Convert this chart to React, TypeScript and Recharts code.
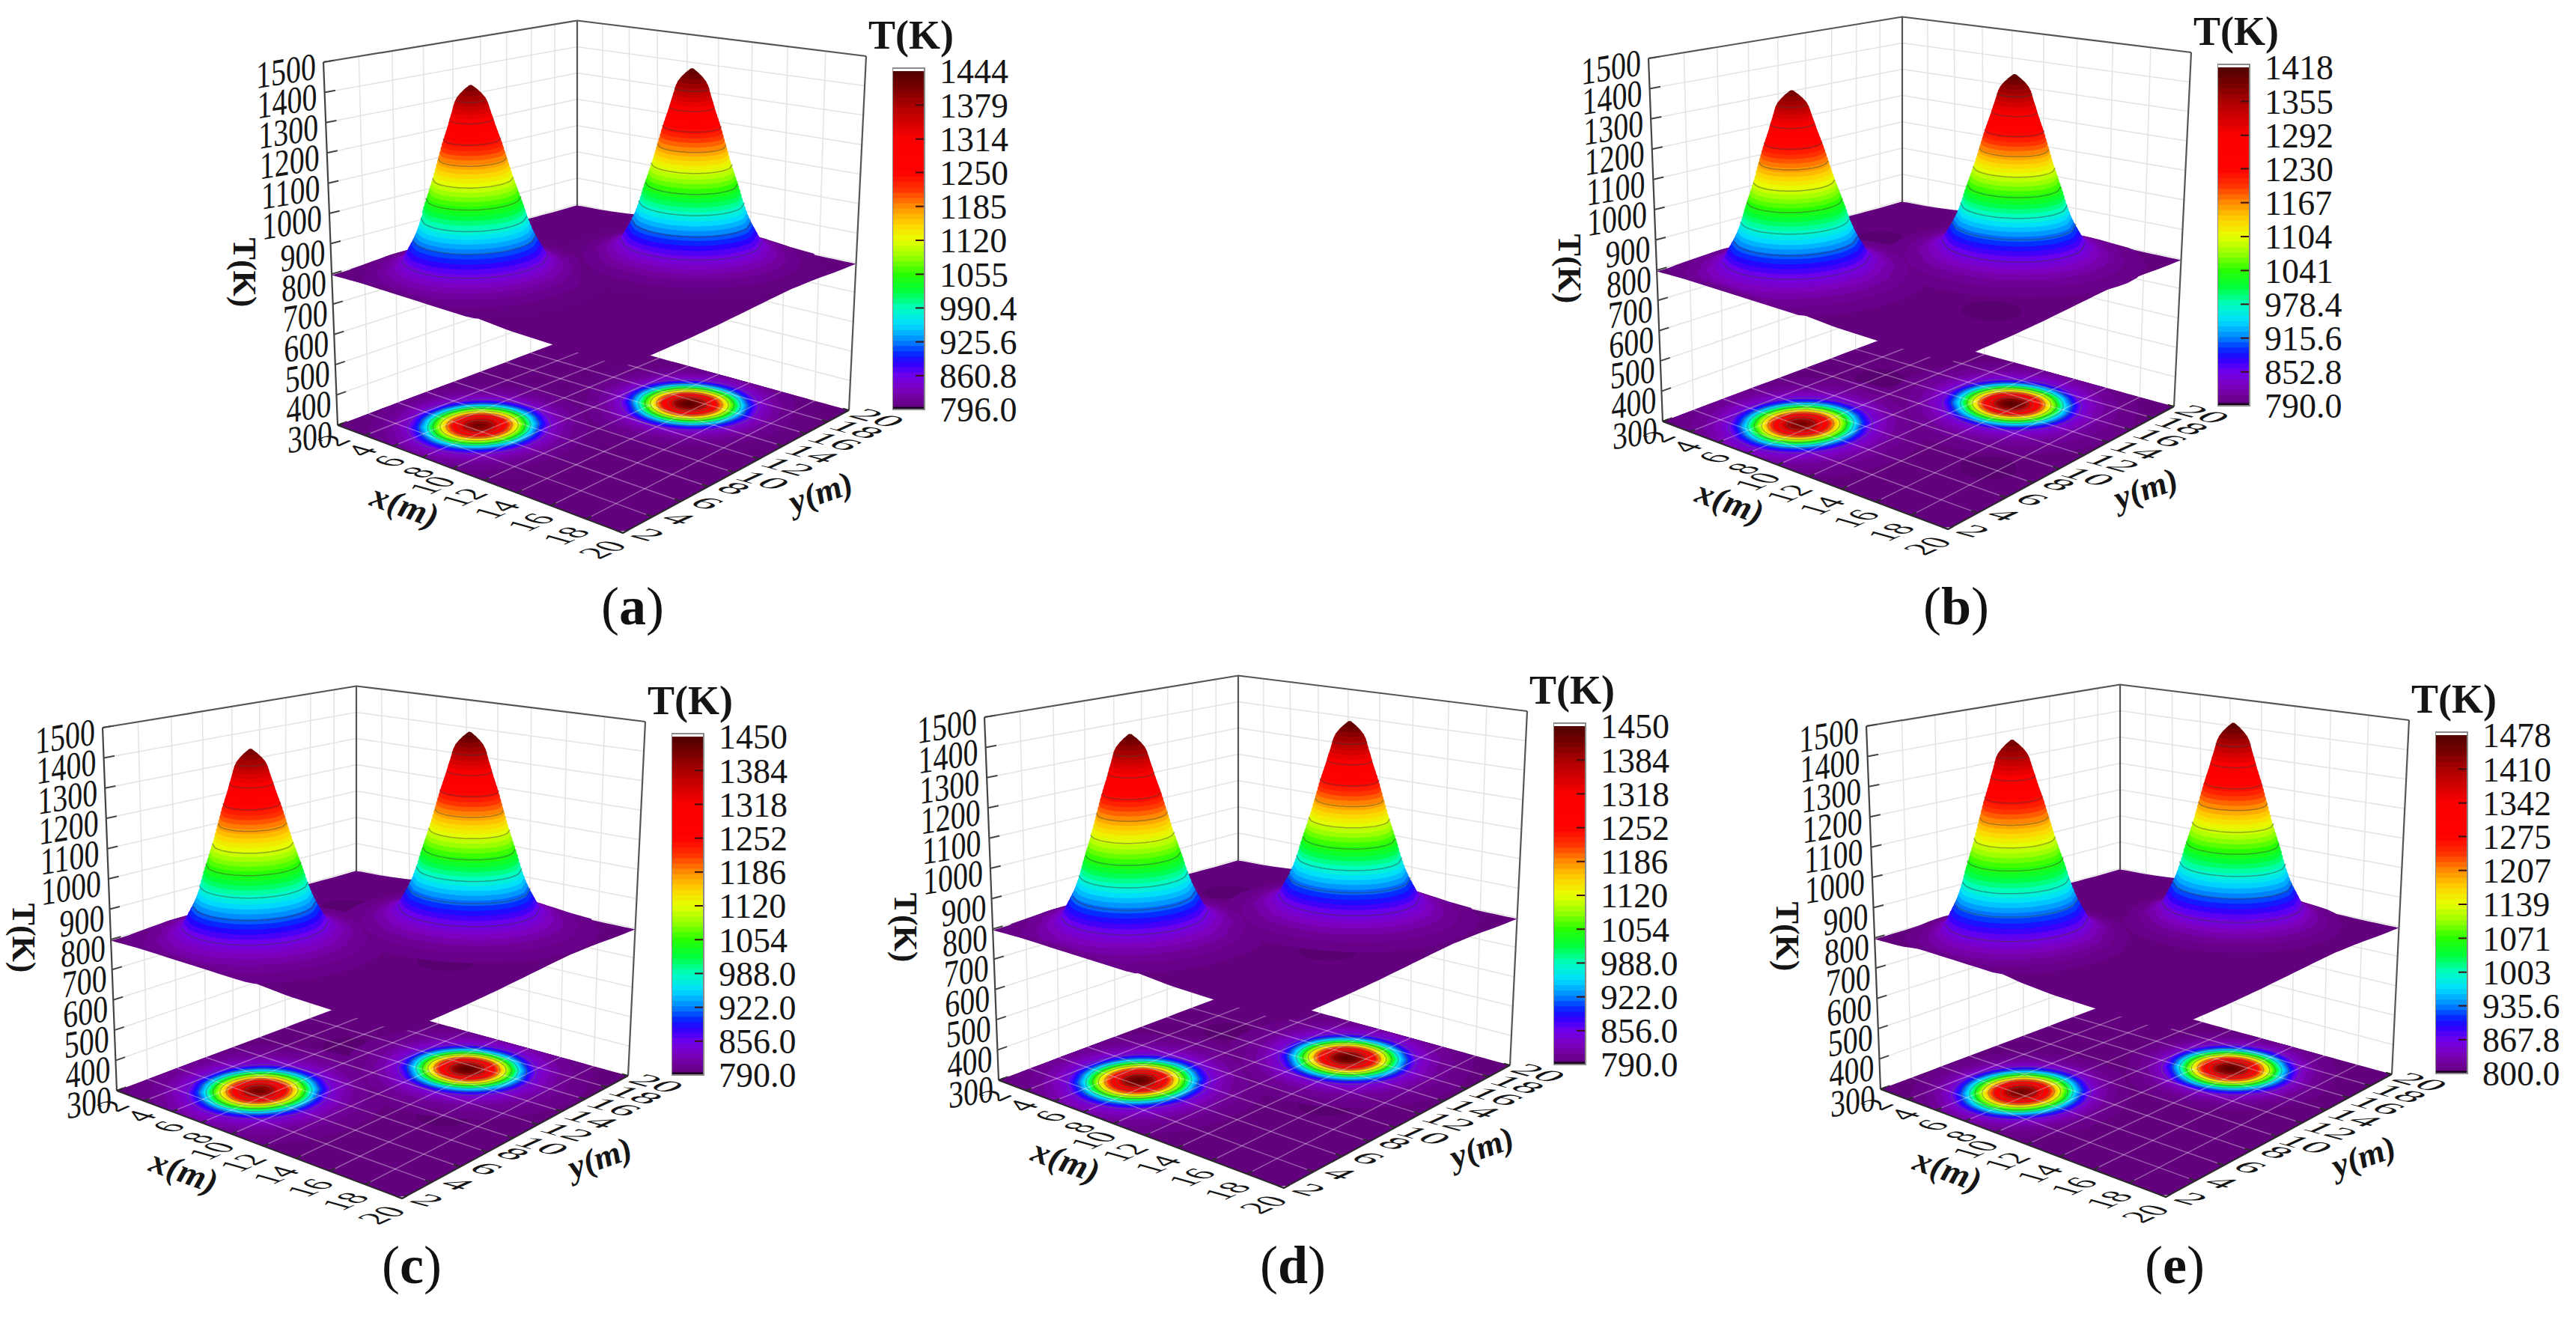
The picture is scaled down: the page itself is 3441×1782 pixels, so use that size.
import React from 'react';
import { Area, ComposedChart, Line, Scatter, XAxis, YAxis } from 'recharts';

const FONT = '"Liberation Serif", "Times New Roman", serif';

// one block per panel
const panelNames = ['a', 'b', 'c', 'd', 'e'];
const panelShiftX = [0, 1770, -295, 883, 2061];
const panelShiftY = [0, -5, 889, 875, 887];
const captionX = [845, 2613, 550, 1727, 2905];
const captionY = [810, 810, 1690, 1690, 1690];

const barLabelsA = ['796.0', '860.8', '925.6', '990.4', '1055', '1120', '1185', '1250', '1314', '1379', '1444'];
const barLabelsB = ['790.0', '852.8', '915.6', '978.4', '1041', '1104', '1167', '1230', '1292', '1355', '1418'];
const barLabelsC = ['790.0', '856.0', '922.0', '988.0', '1054', '1120', '1186', '1252', '1318', '1384', '1450'];
const barLabelsD = ['790.0', '856.0', '922.0', '988.0', '1054', '1120', '1186', '1252', '1318', '1384', '1450'];
const barLabelsE = ['800.0', '867.8', '935.6', '1003', '1071', '1139', '1207', '1275', '1342', '1410', '1478'];
const barLabels = [barLabelsA, barLabelsB, barLabelsC, barLabelsD, barLabelsE];

// peak positions (m) and peak temperatures (K)
const leftPeakX = [7.3, 7.4, 7.3, 7.25, 7.5];
const leftPeakY = [6.5, 6.15, 6.55, 6.45, 6.25];
const rightPeakX = [13.4, 13.6, 13.3, 13.2, 13.4];
const rightPeakY = [15.5, 15, 15.5, 15.5, 15.35];
const leftPeakT = [1425, 1400, 1430, 1445, 1460];
const rightPeakT = [1444, 1418, 1450, 1450, 1478];

// cold patches on the surface (m)
const coldSpotsA: number[][] = [];
const coldSpotsB = [[6.1, 13.4], [17.5, 8]];
const coldSpotsC = [[6.5, 14], [16, 10]];
const coldSpotsD = [[6, 14.5], [16, 10]];
const coldSpotsE: number[][] = [];
const coldSpots = [coldSpotsA, coldSpotsB, coldSpotsC, coldSpotsD, coldSpotsE];

// radial profile of a peak read from the silhouettes, for a 1475 K top
const ringTemps = [800, 810, 820, 830, 840, 850, 860, 875, 890, 905, 920, 935, 950, 965, 980, 995, 1010, 1025, 1040, 1055, 1070, 1085, 1100, 1115, 1130, 1145, 1160, 1175, 1190, 1205, 1220, 1235, 1250, 1265, 1280, 1295, 1310, 1325, 1340, 1355, 1370, 1385, 1400, 1415, 1430, 1445, 1460, 1475];
const ringRadii = [6.4, 5.4, 4.7, 4.25, 3.9, 3.65, 3.5, 3.38, 3.26, 3.14, 3.02, 2.92, 2.82, 2.74, 2.66, 2.59, 2.52, 2.46, 2.4, 2.33, 2.26, 2.19, 2.12, 2.05, 1.98, 1.91, 1.85, 1.79, 1.73, 1.67, 1.61, 1.55, 1.49, 1.43, 1.36, 1.29, 1.22, 1.15, 1.09, 1.03, 0.96, 0.9, 0.84, 0.78, 0.68, 0.52, 0.32, 0.08];

// temperature along the surface edges
const edgeFront = [796, 800, 815, 826, 822, 806, 798, 797, 796, 796];
const edgeRight = [796, 796, 796, 798, 802, 806, 809, 806, 800, 796];
const edgeBack = [796, 797, 800, 808, 818, 824, 818, 806, 798, 796];
const edgeLeft = [796, 796, 798, 801, 806, 812, 808, 803, 798, 796];
const edgeStations = [2, 4, 6, 8, 10, 12, 14, 16, 18, 20];

const tempTicks = [300, 400, 500, 600, 700, 800, 900, 1000, 1100, 1200, 1300, 1400, 1500];
const metreTicks = [2, 4, 6, 8, 10, 12, 14, 16, 18, 20];

// colour bar stops: position 0..1 and rgb
const stopAt = [0, 0.03, 0.06, 0.1, 0.14, 0.17, 0.2, 0.25, 0.3, 0.35, 0.4, 0.45, 0.5, 0.55, 0.6, 0.65, 0.7, 0.8, 0.85, 0.9, 0.95, 1];
const stopRgb = [
  [98, 0, 125], [110, 0, 150], [125, 0, 190], [110, 0, 235], [40, 0, 255], [0, 50, 255], [0, 130, 255], [0, 220, 255],
  [0, 255, 190], [0, 255, 60], [40, 255, 0], [150, 255, 0], [230, 255, 0], [255, 210, 0], [255, 140, 0], [255, 50, 0],
  [255, 0, 0], [250, 0, 0], [210, 0, 0], [170, 0, 0], [120, 0, 0], [80, 0, 0],
];

// camera: corners of the box seen on screen, for panel (a)
const floorQuad = [[451, 568], [832, 712], [1134, 548], [771, 448]];
const topQuad = [[432, 83], [836, 175], [1157, 75], [771, 27.5]];

const FRAME_X = 300;
const FRAME_W = 1000;
const FRAME_H = 880;

type Pt = [number, number];

function homography(q: number[][]) {
  const [p0, p1, p2, p3] = q;
  const dx1 = p1[0] - p2[0];
  const dx2 = p3[0] - p2[0];
  const sx = p0[0] - p1[0] + p2[0] - p3[0];
  const dy1 = p1[1] - p2[1];
  const dy2 = p3[1] - p2[1];
  const sy = p0[1] - p1[1] + p2[1] - p3[1];
  const det = dx1 * dy2 - dx2 * dy1;
  const g = (sx * dy2 - dx2 * sy) / det;
  const h = (dx1 * sy - sx * dy1) / det;
  return (u: number, v: number): Pt => {
    const w = g * u + h * v + 1;
    return [
      ((p1[0] - p0[0] + g * p1[0]) * u + (p3[0] - p0[0] + h * p3[0]) * v + p0[0]) / w,
      ((p1[1] - p0[1] + g * p1[1]) * u + (p3[1] - p0[1] + h * p3[1]) * v + p0[1]) / w,
    ];
  };
}

const floorMap = homography(floorQuad);
const topMap = homography(topQuad);

function project(x: number, y: number, t: number): Pt {
  const u = (x - 2) / 18;
  const v = (y - 2) / 18;
  const f = (t - 300) / 1200;
  const a = floorMap(u, v);
  const b = topMap(u, v);
  return [a[0] + (b[0] - a[0]) * f, a[1] + (b[1] - a[1]) * f];
}

function colorAt(frac: number) {
  const t = Math.min(1, Math.max(0, frac));
  let i = 0;
  while (i < stopAt.length - 2 && stopAt[i + 1] < t) i++;
  const k = (t - stopAt[i]) / (stopAt[i + 1] - stopAt[i]);
  const c = stopRgb[i].map((v, j) => Math.round(v + (stopRgb[i + 1][j] - v) * k));
  return `rgb(${c[0]},${c[1]},${c[2]})`;
}

function ringPolygon(cx: number, cy: number, r: number, t: number): Pt[] {
  const out: Pt[] = [];
  for (let i = 0; i < 40; i++) {
    const a = (i / 40) * Math.PI * 2;
    const x = Math.min(20, Math.max(2, cx + r * Math.cos(a)));
    const y = Math.min(20, Math.max(2, cy + r * Math.sin(a)));
    out.push(project(x, y, t));
  }
  return out;
}

// convex hull of two rings, so the slope between them has no gaps
function hull(points: Pt[]): Pt[] {
  const p = [...points].sort((a, b) => a[0] - b[0] || a[1] - b[1]);
  const cross = (o: Pt, a: Pt, b: Pt) => (a[0] - o[0]) * (b[1] - o[1]) - (a[1] - o[1]) * (b[0] - o[0]);
  const half = (list: Pt[]) => {
    const out: Pt[] = [];
    list.forEach((q) => {
      while (out.length >= 2 && cross(out[out.length - 2], out[out.length - 1], q) <= 0) out.pop();
      out.push(q);
    });
    out.pop();
    return out;
  };
  return [...half(p), ...half([...p].reverse())];
}

// vertical slices of a polygon, in the [low, high] form a range Area wants
function toRows(poly: Pt[], steps = 28) {
  const xs = poly.map((p) => p[0]);
  const min = Math.min(...xs);
  const max = Math.max(...xs);
  const rows: { x: number; range: number[]; y: number }[] = [];
  for (let i = 0; i <= steps; i++) {
    const x = min + ((max - min) * i) / steps;
    let lo = Infinity;
    let hi = -Infinity;
    poly.forEach((a, j) => {
      const b = poly[(j + 1) % poly.length];
      if (a[0] !== b[0] && (a[0] - x) * (b[0] - x) <= 0) {
        const y = a[1] + ((x - a[0]) / (b[0] - a[0])) * (b[1] - a[1]);
        lo = Math.min(lo, y);
        hi = Math.max(hi, y);
      }
    });
    if (lo !== Infinity) rows.push({ x, range: [lo, hi], y: hi });
  }
  return rows;
}

const asRows = (pts: Pt[]) => pts.map((p) => ({ x: p[0], y: p[1] }));

function Layer({ sx, sy, children }: { sx: number; sy: number; children: React.ReactNode }) {
  return (
    <div style={{ position: 'absolute', left: sx + FRAME_X, top: sy, width: FRAME_W, height: FRAME_H }}>
      <ComposedChart width={FRAME_W} height={FRAME_H} margin={{ top: 0, right: 0, bottom: 0, left: 0 }}>
        <XAxis hide type="number" dataKey="x" domain={[FRAME_X, FRAME_X + FRAME_W]} />
        <YAxis hide type="number" dataKey="y" domain={[0, FRAME_H]} reversed />
        {children}
      </ComposedChart>
    </div>
  );
}

function Stroke({ pts, color, width }: { pts: Pt[]; color: string; width: number }) {
  return <Line data={asRows(pts)} dataKey="y" stroke={color} strokeWidth={width} dot={false} activeDot={false} isAnimationActive={false} legendType="none" />;
}

function Fill({ poly, color, steps }: { poly: Pt[]; color: string; steps?: number }) {
  return <Area data={toRows(poly, steps)} dataKey="range" type="linear" fill={color} fillOpacity={1} stroke="none" dot={false} activeDot={false} isAnimationActive={false} legendType="none" />;
}

function TextMark(props: any) {
  const { cx, cy, payload } = props;
  const m = payload.matrix;
  return (
    <text
      transform={`matrix(${m[0]} ${m[1]} ${m[2]} ${m[3]} ${cx} ${cy})`}
      textAnchor="middle"
      dy="0.35em"
      fontFamily={FONT}
      fontSize={payload.size}
      fontWeight={payload.bold ? 700 : 400}
      fontStyle={payload.italic ? 'italic' : 'normal'}
      fill="#151515"
    >
      {payload.text}
    </text>
  );
}

function CaptionMark(props: any) {
  const { cx, cy, payload } = props;
  return (
    <text x={cx} y={cy} dy="0.33em" textAnchor="middle" fontFamily={FONT} fontSize={72} fill="#111">
      (<tspan fontWeight={700}>{payload.text}</tspan>)
    </text>
  );
}

function planePolygon(): Pt[] {
  const pts: Pt[] = [];
  edgeStations.forEach((s, i) => pts.push(project(s, 2, edgeFront[i])));
  edgeStations.forEach((s, i) => pts.push(project(20, s, edgeRight[i])));
  edgeStations.forEach((s, i) => pts.push(project(22 - s, 20, edgeBack[i])));
  edgeStations.forEach((s, i) => pts.push(project(2, 22 - s, edgeLeft[i])));
  return pts;
}

function Panel({ idx }: { idx: number }) {
  const sx = panelShiftX[idx];
  const sy = panelShiftY[idx];
  const labels = barLabels[idx];
  const values = labels.map(Number);
  const tMin = values[0];
  const tMax = values[values.length - 1];
  const colorOf = (t: number) => colorAt((t - tMin) / (tMax - tMin));

  // each peak stretches the shared profile up to its own top temperature
  const peaks = [
    { x: leftPeakX[idx], y: leftPeakY[idx], top: leftPeakT[idx] },
    { x: rightPeakX[idx], y: rightPeakY[idx], top: rightPeakT[idx] },
  ].map((p) => ({
    ...p,
    levels: ringTemps
      .map((t, i) => ({ t: 800 + ((t - 800) * (p.top - 800)) / 675, r: ringRadii[i] }))
      .filter((l) => l.t > tMin),
  }));
  const nearestRadius = (levels: { t: number; r: number }[], t: number) =>
    levels.reduce((best, l) => (Math.abs(l.t - t) < Math.abs(best.t - t) ? l : best), levels[0]).r;
  const steps = ringTemps.map((_, i) => i);

  const wallV: Pt[][] = [];
  metreTicks.slice(1, -1).forEach((m) => {
    wallV.push([project(2, m, 300), project(2, m, 1500)]);
    wallV.push([project(m, 20, 300), project(m, 20, 1500)]);
  });
  const wallH: Pt[][] = [];
  tempTicks.slice(1, -1).forEach((t) => {
    wallH.push([project(2, 2, t), project(2, 20, t), project(20, 20, t)]);
  });

  const floorGrid: Pt[][] = [];
  metreTicks.slice(1, -1).forEach((m) => {
    floorGrid.push([project(m, 2, 300), project(m, 20, 300)]);
    floorGrid.push([project(2, m, 300), project(20, m, 300)]);
  });

  const contourTicks = values.slice(1, -1);

  const texts: any[] = [];
  tempTicks.forEach((t) => {
    const p = project(2, 2, t);
    const long = t >= 1000;
    texts.push({ x: p[0] + (long ? -50 : -37), y: p[1] + (long ? 11 : 15), text: String(t), size: 40, matrix: [1, -0.16, 0, 1.27] });
  });
  metreTicks.forEach((m) => {
    const p = project(m, 2, 300);
    const long = m >= 10;
    texts.push({ x: p[0] + (long ? -28 : -6), y: p[1] + (long ? 22 : 20), text: String(m), size: 42, matrix: [0.95, -0.43, 1.1, 0.31] });
    const q = project(20, m, 300);
    texts.push({ x: q[0] + (long ? 39 : 35), y: q[1] + (long ? 10 : 2), text: String(m), size: 40, matrix: [1.44, 0.4, -0.91, 0.41] });
  });
  texts.push({ x: 327, y: 364, text: 'T(K)', size: 44, bold: true, matrix: [0, 1, -1, 0] });
  texts.push({ x: 541, y: 675, text: 'x(m)', size: 48, bold: true, italic: true, matrix: [0.94, 0.34, -0.3, 0.9] });
  texts.push({ x: 1096, y: 657, text: 'y(m)', size: 46, bold: true, italic: true, matrix: [0.95, -0.33, 0.35, 0.9] });
  texts.push({ x: 1217, y: 46, text: 'T(K)', size: 54, bold: true, matrix: [1, 0, 0, 1] });

  const spots = coldSpots[idx];

  return (
    <>
      <Layer sx={sx} sy={sy}>
        {wallV.map((pts, i) => <Stroke key={`v${i}`} pts={pts} color="#e4e4e4" width={1.5} />)}
        {wallH.map((pts, i) => <Stroke key={`h${i}`} pts={pts} color="#e4e4e4" width={1.5} />)}
        <Stroke pts={[project(2, 2, 1500), project(2, 20, 1500), project(20, 20, 1500)]} color="#555" width={2.2} />
        <Stroke pts={[project(2, 2, 300), project(2, 2, 1500)]} color="#444" width={2.2} />
        <Stroke pts={[project(2, 20, 300), project(2, 20, 1500)]} color="#555" width={2.2} />
        <Stroke pts={[project(20, 20, 300), project(20, 20, 1500)]} color="#555" width={2.2} />
        {tempTicks.map((t) => <Stroke key={`t${t}`} pts={[project(2, 2, t), project(2, 2.6, t)]} color="#444" width={2} />)}
      </Layer>

      <Layer sx={sx} sy={sy}>
        <Fill poly={[project(2, 2, 300), project(20, 2, 300), project(20, 20, 300), project(2, 20, 300)]} color={colorOf(tMin)} steps={60} />
        {spots.map((s, i) => <Fill key={`s${i}`} poly={ringPolygon(s[0], s[1], 1.3, 300)} color="#58006f" />)}
        {steps.map((i) =>
          peaks.map((p, j) => {
            const l = p.levels[i - (ringTemps.length - p.levels.length)];
            return l ? <Fill key={`f${i}-${j}`} poly={ringPolygon(p.x, p.y, l.r, 300)} color={colorOf(l.t)} /> : null;
          }),
        )}
      </Layer>

      <Layer sx={sx} sy={sy}>
        {floorGrid.map((pts, i) => <Stroke key={`g${i}`} pts={pts} color="rgba(255,255,255,0.35)" width={1.5} />)}
        {contourTicks.map((t) =>
          peaks.map((p, j) => {
            if (t >= p.top) return null;
            const ring = ringPolygon(p.x, p.y, nearestRadius(p.levels, t), 300);
            return <Stroke key={`c${t}-${j}`} pts={[...ring, ring[0]]} color="rgba(90,90,90,0.5)" width={1.2} />;
          }),
        )}
        <Stroke pts={[project(2, 2, 300), project(20, 2, 300), project(20, 20, 300)]} color="#2a2a2a" width={2} />
        {metreTicks.map((m) => <Stroke key={`x${m}`} pts={[project(m, 2, 300), project(m, 2.35, 300)]} color="#2a2a2a" width={2} />)}
        {metreTicks.map((m) => <Stroke key={`y${m}`} pts={[project(20, m, 300), project(19.65, m, 300)]} color="#2a2a2a" width={2} />)}
      </Layer>

      <Layer sx={sx} sy={sy}>
        <Fill poly={planePolygon()} color={colorOf(tMin)} steps={90} />
        {spots.map((s, i) => <Fill key={`ps${i}`} poly={ringPolygon(s[0], s[1], 1.3, tMin + 4)} color="#58006f" />)}
        {steps.map((i) =>
          peaks.map((p, j) => {
            const k = i - (ringTemps.length - p.levels.length);
            const low = p.levels[k];
            if (!low) return null;
            const high = p.levels[k + 1];
            const poly = ringPolygon(p.x, p.y, low.r, low.t);
            const shape = high ? hull([...poly, ...ringPolygon(p.x, p.y, high.r, high.t)]) : poly;
            return <Fill key={`p${i}-${j}`} poly={shape} color={colorOf(low.t)} />;
          }),
        )}
      </Layer>

      <Layer sx={sx} sy={sy}>
        {contourTicks.map((t) =>
          peaks.map((p, j) => {
            if (t >= p.top) return null;
            const rows = toRows(ringPolygon(p.x, p.y, nearestRadius(p.levels, t), t), 32);
            return <Line key={`r${t}-${j}`} data={rows} dataKey="y" stroke="rgba(60,60,60,0.45)" strokeWidth={1.5} dot={false} activeDot={false} isAnimationActive={false} legendType="none" />;
          }),
        )}
        <Scatter data={texts} shape={TextMark} isAnimationActive={false} legendType="none" />
      </Layer>

      <ColorBar sx={sx} sy={sy} labels={labels} />
    </>
  );
}

const BAR_BANDS = 64;
const BAR_W = 43;
const BAR_TOP = 91;
const BAR_H = 456;

function ColorBar({ sx, sy, labels }: { sx: number; sy: number; labels: string[] }) {
  const values = labels.map(Number);
  const tMin = values[0];
  const tMax = values[values.length - 1];
  const span = tMax - tMin;
  const bands = Array.from({ length: BAR_BANDS }, (_, i) => i);
  const capT = tMax + span * 0.009;
  return (
    <div style={{ position: 'absolute', left: sx + 1192, top: sy + BAR_TOP - 30 }}>
      <ComposedChart width={230} height={BAR_H + 60} margin={{ top: 30, right: 0, bottom: 30, left: 0 }}>
        <XAxis hide type="number" dataKey="x" domain={[0, 1]} />
        <YAxis
          orientation="right"
          type="number"
          domain={[tMin, tMax]}
          ticks={values}
          interval={0}
          width={230 - BAR_W}
          axisLine={false}
          tickLine={false}
          tickSize={0}
          tickMargin={20}
          tickFormatter={(v: number) => labels[values.indexOf(v)]}
          tick={{ fontSize: 46, fontFamily: FONT, fill: '#151515' }}
        />
        {bands.map((i) => (
          <Area
            key={i}
            data={[
              { x: 0, range: [tMin + (span * i) / BAR_BANDS, tMax] },
              { x: 1, range: [tMin + (span * i) / BAR_BANDS, tMax] },
            ]}
            dataKey="range"
            type="linear"
            fill={colorAt((i + 0.5) / BAR_BANDS)}
            fillOpacity={1}
            stroke="none"
            dot={false}
            activeDot={false}
            isAnimationActive={false}
            legendType="none"
          />
        ))}
        <Area
          data={[
            { x: 0, range: [tMin, tMin + span * 0.008] },
            { x: 1, range: [tMin, tMin + span * 0.008] },
          ]}
          dataKey="range"
          type="linear"
          fill="#1a0020"
          fillOpacity={1}
          stroke="none"
          dot={false}
          activeDot={false}
          isAnimationActive={false}
          legendType="none"
        />
        {values.slice(1, -1).map((v) => (
          <Line key={v} data={[{ x: 0.72, t: v }, { x: 1, t: v }]} dataKey="t" stroke="#3a1010" strokeWidth={2} dot={false} activeDot={false} isAnimationActive={false} legendType="none" />
        ))}
        <Line
          data={[{ x: 0, t: tMin }, { x: 0, t: capT }, { x: 1, t: capT }, { x: 1, t: tMin }, { x: 0, t: tMin }]}
          dataKey="t"
          stroke="#8a8a8a"
          strokeWidth={2}
          dot={false}
          activeDot={false}
          isAnimationActive={false}
          legendType="none"
        />
      </ComposedChart>
    </div>
  );
}

export default function App() {
  const captions = panelNames.map((text, i) => ({ x: captionX[i], y: captionY[i], text }));
  return (
    <div style={{ position: 'absolute', left: 0, top: 0, width: 3441, height: 1782, background: '#fff', overflow: 'hidden' }}>
      {panelNames.map((name, i) => <Panel key={name} idx={i} />)}
      <div style={{ position: 'absolute', left: 0, top: 0 }}>
        <ComposedChart width={3441} height={1782} margin={{ top: 0, right: 0, bottom: 0, left: 0 }}>
          <XAxis hide type="number" dataKey="x" domain={[0, 3441]} />
          <YAxis hide type="number" dataKey="y" domain={[0, 1782]} reversed />
          <Scatter data={captions} shape={CaptionMark} isAnimationActive={false} legendType="none" />
        </ComposedChart>
      </div>
    </div>
  );
}
